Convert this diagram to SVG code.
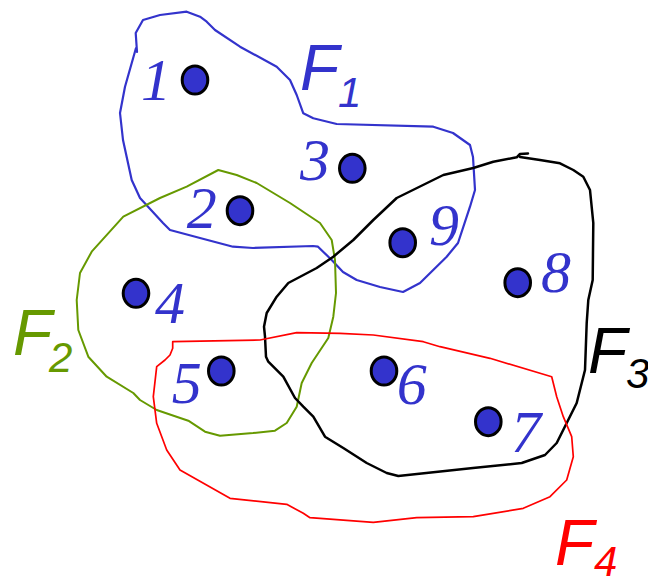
<svg xmlns="http://www.w3.org/2000/svg" width="648" height="579" viewBox="0 0 648 579">
<style>
.set{fill:none;stroke-linejoin:round;stroke-linecap:round}
.dot{fill:#3333cc;stroke:#000;stroke-width:3}
.num{font-family:"Liberation Serif","Times New Roman",serif;font-style:italic;font-size:60px;fill:#3333cc;text-anchor:middle}
.lab{font-family:"Liberation Sans",Arial,sans-serif;font-style:italic}
</style>
<rect width="648" height="579" fill="#fff"/>
<g id="connectors">
<path id="F1-edge" class="set" stroke="#3333cc" stroke-width="2.2" d="M137,52 L135.7,33 L143,20 L160,15 L186.7,11.7 L200,16.7 L206.7,21.7 L215,30 L240,46.7 L276.7,66.7 L290,80 L296.7,95 L303.3,113.3 L313.3,118.3 L336.7,124 L433.3,126.7 L453,133 L470,145 L473,157 L475,190 L470,206.7 L458,243 L446.7,256.7 L420,283 L403,292 L380,287 L356.7,280 L343,272 L331.7,260 L318,246.7 L313,246 L253,248 L233,246.7 L200,238 L170,230 L163,223 L140,198 L131.7,180 L123,140 L120,113 L125,86.7 L136,48"/>
<path id="F2-edge" class="set" stroke="#669900" stroke-width="2" d="M218.3,170 L236.7,175 L256.7,183 L290,203 L320,223 L331.7,240 L335,260 L336,293 L333.3,316.7 L328.3,338 L311.7,363 L301.7,383 L296.7,406.7 L286.7,423 L275,430.7 L253,433 L220,435.7 L205,431.7 L188.3,420.7 L156.7,410 L140,400 L133.3,393 L106.7,376.7 L88.3,356.7 L78.3,330 L76.7,300 L80,273 L91.7,251.7 L123.3,216.7 L160,198 L186.7,186.7 Z"/>
<path id="F3-edge" class="set" stroke="#000" stroke-width="2.5" d="M520,157 L540,160 L560,163.3 L573.3,170 L583.3,176.7 L590,190 L593.3,223 L592.7,280 L588.3,300 L586.7,323 L585,370 L576.7,403 L566.7,423 L556.7,443 L545,455 L521.7,463 L473,468 L398.3,476 L386.7,473 L366.7,463 L343.3,448 L325,436.7 L313.3,416.7 L303.3,406.7 L295,398 L283.3,376.7 L268.3,361.7 L266,356.7 L265,336.7 L264,326.7 L266.7,313 L276.7,296.7 L288.3,283 L316.7,268 L333.3,256.7 L353.3,240 L373.3,220 L396.7,198 L443.3,175 L473.3,168 L493.3,161.7 L516.7,157.3 L520,154 L528,153.5"/>
<path id="F4-edge" class="set" stroke="#ff0000" stroke-width="1.7" d="M172.7,341.7 L260,340 L296.7,332.7 L340,333.3 L373.3,335 L423.3,341.7 L440,346.7 L490,358.3 L551.7,376.7 L556.7,396.7 L563.3,416.7 L571.7,436.7 L573.3,456.7 L566.7,480 L550,496.7 L523.3,508.3 L473.3,516.7 L416.7,517.7 L373.3,522.3 L310,517.7 L303.3,513.3 L286.7,504.3 L230,498.3 L180,470 L166.7,450 L156.7,423.3 L153.3,396.7 L156.7,366.7 L165,360 L170,355 L172.7,348.3 Z"/>
</g>
<g id="labels">
<text class="lab" x="300" y="90" font-size="64" fill="#3333cc">F</text>
<text class="lab" x="338" y="106.7" font-size="42" fill="#3333cc">1</text>
<text class="lab" x="13" y="355" font-size="64" fill="#669900">F</text>
<text class="lab" x="49" y="371.7" font-size="42" fill="#669900">2</text>
<text class="lab" x="588" y="373" font-size="64" fill="#000">F</text>
<text class="lab" x="626" y="388" font-size="42" fill="#000">3</text>
<text class="lab" x="555" y="565" font-size="64" fill="#ff0000">F</text>
<text class="lab" x="594" y="576" font-size="42" fill="#ff0000">4</text>
</g>
<g id="node1"><ellipse class="dot" cx="195" cy="80" rx="12.8" ry="14"/><text class="num" x="156" y="100">1</text></g>
<g id="node2"><ellipse class="dot" cx="240" cy="210.7" rx="12.8" ry="14"/><text class="num" x="201.7" y="228">2</text></g>
<g id="node3"><ellipse class="dot" cx="352.3" cy="168.3" rx="12.8" ry="14"/><text class="num" x="315" y="180">3</text></g>
<g id="node4"><ellipse class="dot" cx="136" cy="293.3" rx="12.8" ry="14"/><text class="num" x="170" y="323.3">4</text></g>
<g id="node5"><ellipse class="dot" cx="221.3" cy="371" rx="12.8" ry="14"/><text class="num" x="186.7" y="403">5</text></g>
<g id="node6"><ellipse class="dot" cx="384" cy="371" rx="12.8" ry="14"/><text class="num" x="411.7" y="404">6</text></g>
<g id="node7"><ellipse class="dot" cx="488.3" cy="421.7" rx="12.8" ry="14"/><text class="num" x="526" y="451.7">7</text></g>
<g id="node8"><ellipse class="dot" cx="517.7" cy="282.7" rx="12.8" ry="14"/><text class="num" x="556" y="291.7">8</text></g>
<g id="node9"><ellipse class="dot" cx="402.7" cy="242.7" rx="12.8" ry="14"/><text class="num" x="444" y="245">9</text></g>
</svg>
